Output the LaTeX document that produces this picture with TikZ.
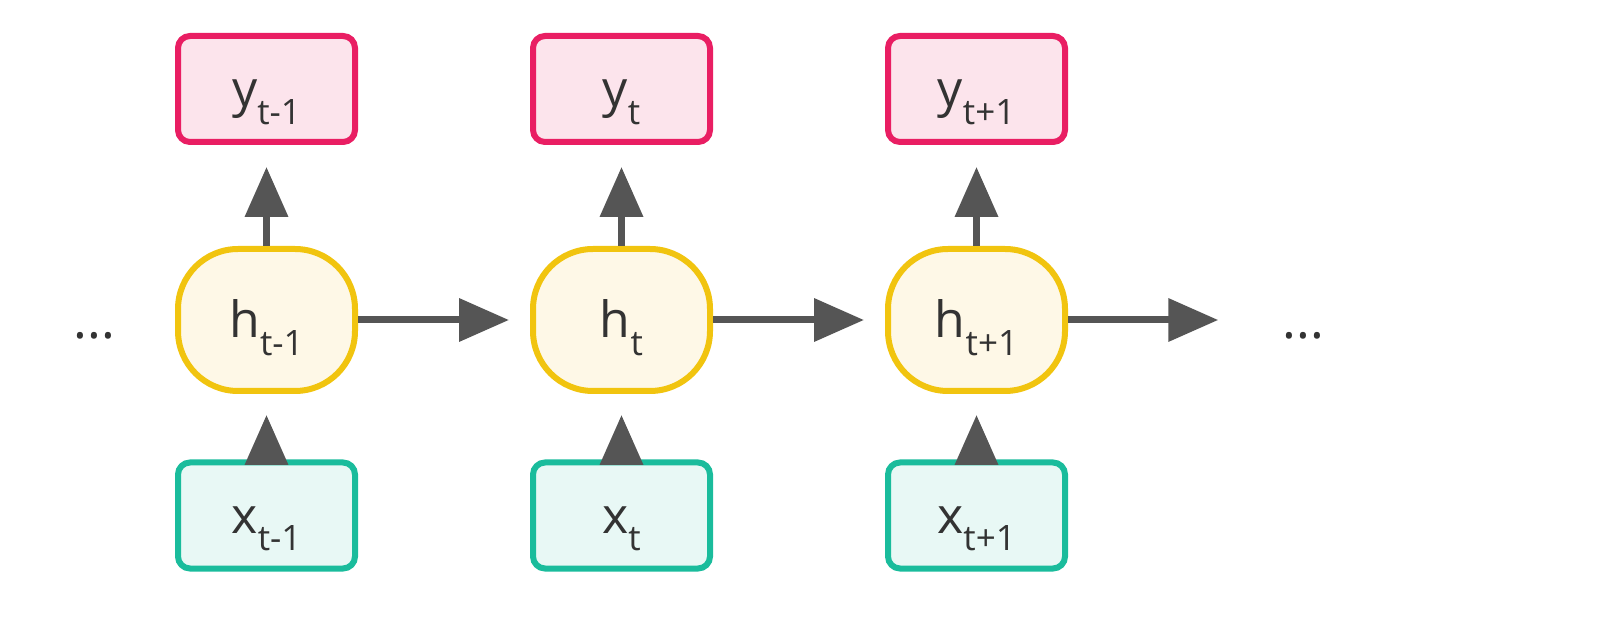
\documentclass[tikz,border=0pt]{standalone}
\usepackage{fontspec}
\setmainfont{Open Sans}
\usetikzlibrary{arrows.meta}
\definecolor{outpink}{HTML}{E91E63}
\definecolor{outfill}{HTML}{FCE4EC}
\definecolor{hidgold}{HTML}{F1C40F}
\definecolor{hidfill}{HTML}{FEF8E7}
\definecolor{intea}{HTML}{1ABC9C}
\definecolor{infill}{HTML}{E8F8F5}
\definecolor{wire}{HTML}{555555}
\definecolor{ink}{HTML}{333333}
\newcommand{\lbl}[2]{#1\raisebox{-8.75pt}{\fontsize{17.5}{18}\selectfont #2}}
\tikzset{
  cell/.style={line width=3pt,inner sep=0pt,text=ink,
    font=\fontsize{25}{26}\selectfont,text height=18pt,text depth=0pt,
    minimum width=88.5pt},
  outbox/.style={cell,draw=outpink,fill=outfill,rounded corners=6pt,minimum height=53pt},
  inbox/.style={cell,draw=intea,fill=infill,rounded corners=6pt,minimum height=53pt},
  hidbox/.style={cell,draw=hidgold,fill=hidfill,rounded corners=30pt,minimum height=71pt},
  dots/.style={inner sep=0pt,anchor=base,text=ink,font=\fontsize{26}{26}\selectfont}
}
\begin{document}
\begin{tikzpicture}[>={Triangle[length=25pt,width=21pt]},line width=3.5pt]
\useasboundingbox (0pt,0pt) rectangle (800pt,-320pt);
\node[outbox] (y1) at (133.25pt,-44.5pt) {\lbl{y}{t-1}};
\node[outbox] (y2) at (310.75pt,-44.5pt) {\lbl{y}{t}};
\node[outbox] (y3) at (488.25pt,-44.5pt) {\lbl{y}{t+1}};
\node[hidbox] (h1) at (133.25pt,-160pt) {\lbl{h}{t-1}};
\node[hidbox] (h2) at (310.75pt,-160pt) {\lbl{h}{t}};
\node[hidbox] (h3) at (488.25pt,-160pt) {\lbl{h}{t+1}};
\node[inbox] (x1) at (133.25pt,-257.75pt) {\lbl{x}{t-1}};
\node[inbox] (x2) at (310.75pt,-257.75pt) {\lbl{x}{t}};
\node[inbox] (x3) at (488.25pt,-257.75pt) {\lbl{x}{t+1}};
\node[dots] (prev) at (47.25pt,-169.5pt) {...};
\node[dots] (next) at (651.75pt,-169.5pt) {...};
\draw[->,draw=wire,fill=wire,shorten >=11pt] (h1.north) -- (y1.south);
\draw[->,draw=wire,fill=wire,shorten >=11pt] (h2.north) -- (y2.south);
\draw[->,draw=wire,fill=wire,shorten >=11pt] (h3.north) -- (y3.south);
\draw[->,draw=wire,fill=wire,shorten >=10.5pt] (x1.north) -- (h1.south);
\draw[->,draw=wire,fill=wire,shorten >=10.5pt] (x2.north) -- (h2.south);
\draw[->,draw=wire,fill=wire,shorten >=10.5pt] (x3.north) -- (h3.south);
\draw[->,draw=wire,fill=wire,shorten >=10.5pt] (h1.east) -- (h2.west);
\draw[->,draw=wire,fill=wire,shorten >=10.5pt] (h2.east) -- (h3.west);
\draw[->,draw=wire,fill=wire,shorten >=30.5pt] (h3.east) -- (h3.east -| next.west);
\end{tikzpicture}
\end{document}
